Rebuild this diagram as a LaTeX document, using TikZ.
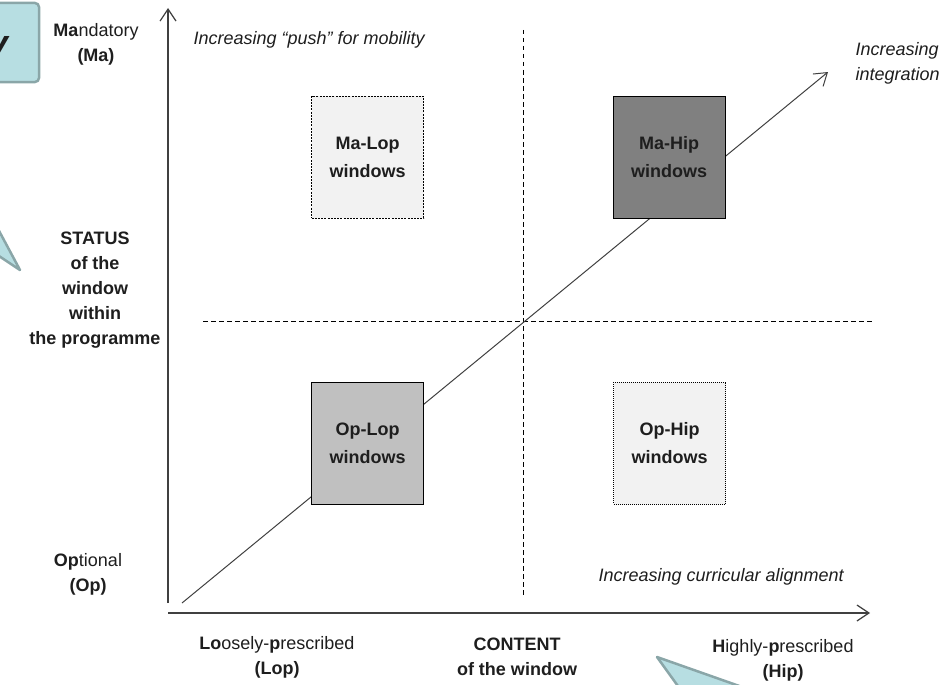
\documentclass[tikz,border=0pt]{standalone}
\usepackage{fontspec}
\setmainfont{Liberation Sans}
\usepackage{tikz}
\usetikzlibrary{arrows,arrows.meta}
\definecolor{calloutfill}{RGB}{183,222,226}
\definecolor{calloutline}{RGB}{138,166,168}
\definecolor{axisgray}{RGB}{64,64,64}
\definecolor{textdark}{RGB}{30,30,30}
\definecolor{lightwin}{RGB}{242,242,242}
\definecolor{midwin}{RGB}{192,192,192}
\definecolor{darkwin}{RGB}{128,128,128}
\newcommand{\fs}{\fontsize{18}{25}\selectfont}
\tikzstyle{ax} = [draw=axisgray, line width=1.2pt, -{Straight Barb[length=12pt,width=16pt]}]
\tikzstyle{quad} = [draw=black, line width=0.9pt, dash pattern=on 4.5pt off 3.5pt]
\tikzstyle{win} = [draw=black, line width=0.9pt, minimum width=112pt, minimum height=122pt, align=center, font=\fontsize{18}{28}\selectfont\bfseries]
\tikzstyle{callout} = [fill=calloutfill, draw=calloutline, line width=2.5pt, line join=round]
\tikzstyle{lbl} = [align=center]
\tikzstyle{note} = [font=\fs\itshape, anchor=west]

\begin{document}
\begin{tikzpicture}[yscale=-1, every node/.style={font=\fs, text=textdark}]
			\useasboundingbox (0pt,0pt) rectangle (950pt,685pt);
			\clip (0pt,0pt) rectangle (950pt,685pt);
			% callouts of the slide, cut by the frame
			\draw[callout, rounded corners=4pt] (-30pt,3pt) rectangle (39pt,82pt);
			\node[anchor=base east, inner sep=0pt, font=\fontsize{36}{40}\selectfont\bfseries\itshape] (tag) at (9pt,56pt) {y};
			\draw[callout] (-10pt,214pt) -- (20pt,270pt) -- (-10pt,250pt) -- cycle;
			\draw[callout] (688pt,700pt) -- (657pt,657pt) -- (779pt,700pt) -- cycle;
			% axes and quadrants
			\coordinate (org) at (168pt,603pt);
			\coordinate (ytip) at (168pt,8pt);
			\coordinate (xorg) at (168pt,613pt);
			\coordinate (xtip) at (870pt,613pt);
			\coordinate (dstart) at (182pt,603pt);
			\coordinate (dtip) at (828pt,72pt);
			\coordinate (vtop) at (523pt,30pt);
			\coordinate (vbot) at (523pt,598pt);
			\coordinate (hleft) at (203pt,321pt);
			\coordinate (hright) at (872pt,321pt);
			\draw[ax] (org) -- (ytip);
			\draw[ax] (xorg) -- (xtip);
			\draw[quad] (vtop) -- (vbot);
			\draw[quad] (hleft) -- (hright);
			\draw[ax, line width=1pt] (dstart) -- (dtip);
			% windows
			\node[win, fill=lightwin, dash pattern=on 2pt off 1.2pt] (malop) at (367.5pt,157pt) {Ma-Lop\\windows};
			\node[win, fill=darkwin] (mahip) at (669pt,157pt) {Ma-Hip\\windows};
			\node[win, fill=midwin] (oplop) at (367.5pt,443.5pt) {Op-Lop\\windows};
			\node[win, fill=lightwin, dash pattern=on 1pt off 1pt] (ophip) at (669.5pt,443pt) {Op-Hip\\windows};
			% axis labels
			\node[lbl] (mand) at (96pt,44pt) {\textbf{Ma}ndatory\\\textbf{(Ma)}};
			\node[lbl, font=\fs\bfseries] (status) at (95pt,290pt) {STATUS\\of the\\window\\within\\the programme};
			\node[lbl] (opt) at (88pt,574pt) {\textbf{Op}tional\\\textbf{(Op)}};
			\node[lbl] (loose) at (277pt,657pt) {\textbf{Lo}osely-\textbf{p}rescribed\\\textbf{(Lop)}};
			\node[lbl, font=\fs\bfseries] (content) at (517pt,657pt) {CONTENT\\of the window};
			\node[lbl] (high) at (783pt,660pt) {\textbf{H}ighly-\textbf{p}rescribed\\\textbf{(Hip)}};
			\node[note] (push) at (190pt,40pt) {Increasing “push” for mobility};
			\node[note, align=left] (integ) at (852pt,63pt) {Increasing\\integration};
			\node[note] (curric) at (595pt,577pt) {Increasing curricular alignment};
		\end{tikzpicture}
\end{document}
